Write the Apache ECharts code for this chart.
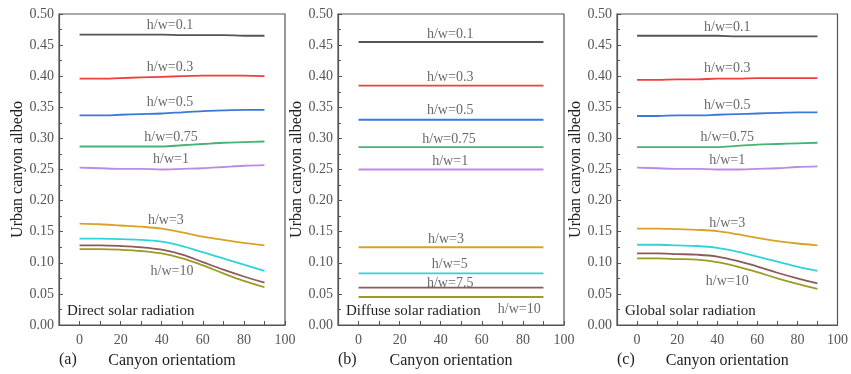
<!DOCTYPE html>
<html>
<head>
<meta charset="utf-8">
<script src="https://cdn.jsdelivr.net/npm/echarts@6/dist/echarts.min.js"></script>
<style>
  html, body { margin: 0; background: #fff; }
  #chart { width: 851px; height: 374px; }
</style>
</head>
<body>
<div id="chart"></div>
<script>
// canyon orientation (deg)
const orientation = [0, 10, 20, 30, 40, 50, 60, 70, 80, 90];
const ratios = ['0.1', '0.3', '0.5', '0.75', '1', '3', '5', '7.5', '10'];
const lineColors = ['#555555', '#ef3f3f', '#3a78dc', '#45b374', '#b98be6', '#d9a227', '#2fd3dc', '#8c5a5c', '#9c9c22'];

// (a) direct solar radiation, one row per h/w
const directAlbedo = [
  [0.467, 0.467, 0.467, 0.467, 0.467, 0.466, 0.466, 0.466, 0.465, 0.465],
  [0.396, 0.396, 0.397, 0.398, 0.399, 0.400, 0.401, 0.401, 0.401, 0.400],
  [0.337, 0.337, 0.338, 0.339, 0.340, 0.342, 0.344, 0.345, 0.346, 0.346],
  [0.287, 0.287, 0.287, 0.287, 0.287, 0.289, 0.291, 0.293, 0.294, 0.295],
  [0.253, 0.252, 0.251, 0.251, 0.250, 0.251, 0.252, 0.254, 0.256, 0.257],
  [0.163, 0.162, 0.160, 0.158, 0.155, 0.149, 0.142, 0.137, 0.132, 0.128],
  [0.139, 0.139, 0.138, 0.137, 0.134, 0.127, 0.117, 0.107, 0.097, 0.087],
  [0.128, 0.128, 0.127, 0.125, 0.121, 0.113, 0.101, 0.089, 0.078, 0.068],
  [0.122, 0.122, 0.121, 0.119, 0.115, 0.107, 0.096, 0.083, 0.071, 0.061]
];

// (b) diffuse solar radiation
const diffuseAlbedo = [
  [0.455, 0.455, 0.455, 0.455, 0.455, 0.455, 0.455, 0.455, 0.455, 0.455],
  [0.385, 0.385, 0.385, 0.385, 0.385, 0.385, 0.385, 0.385, 0.385, 0.385],
  [0.330, 0.330, 0.330, 0.330, 0.330, 0.330, 0.330, 0.330, 0.330, 0.330],
  [0.286, 0.286, 0.286, 0.286, 0.286, 0.286, 0.286, 0.286, 0.286, 0.286],
  [0.250, 0.250, 0.250, 0.250, 0.250, 0.250, 0.250, 0.250, 0.250, 0.250],
  [0.125, 0.125, 0.125, 0.125, 0.125, 0.125, 0.125, 0.125, 0.125, 0.125],
  [0.083, 0.083, 0.083, 0.083, 0.083, 0.083, 0.083, 0.083, 0.083, 0.083],
  [0.060, 0.060, 0.060, 0.060, 0.060, 0.060, 0.060, 0.060, 0.060, 0.060],
  [0.045, 0.045, 0.045, 0.045, 0.045, 0.045, 0.045, 0.045, 0.045, 0.045]
];

// (c) global solar radiation
const globalAlbedo = [
  [0.465, 0.465, 0.465, 0.465, 0.465, 0.464, 0.464, 0.464, 0.464, 0.464],
  [0.394, 0.394, 0.395, 0.395, 0.396, 0.396, 0.397, 0.397, 0.397, 0.397],
  [0.336, 0.336, 0.337, 0.337, 0.338, 0.339, 0.340, 0.341, 0.342, 0.342],
  [0.286, 0.286, 0.286, 0.286, 0.286, 0.288, 0.290, 0.291, 0.292, 0.293],
  [0.253, 0.252, 0.251, 0.251, 0.250, 0.250, 0.251, 0.252, 0.254, 0.255],
  [0.155, 0.155, 0.154, 0.153, 0.151, 0.146, 0.140, 0.135, 0.131, 0.128],
  [0.129, 0.129, 0.128, 0.127, 0.124, 0.118, 0.110, 0.102, 0.094, 0.087],
  [0.115, 0.115, 0.114, 0.113, 0.110, 0.103, 0.094, 0.084, 0.075, 0.067],
  [0.107, 0.107, 0.106, 0.105, 0.101, 0.094, 0.085, 0.075, 0.066, 0.058]
];

// curve labels: [orientation, albedo, text]
const directLabels = [
  [44, 0.481, 'h/w=0.1'], [44, 0.415, 'h/w=0.3'], [44, 0.358, 'h/w=0.5'],
  [44.5, 0.302, 'h/w=0.75'], [44.5, 0.267, 'h/w=1'], [42, 0.169, 'h/w=3'],
  [45, 0.087, 'h/w=10']
];
const diffuseLabels = [
  [44.6, 0.468, 'h/w=0.1'], [44.6, 0.398, 'h/w=0.3'], [44.6, 0.345, 'h/w=0.5'],
  [44, 0.299, 'h/w=0.75'], [44.6, 0.263, 'h/w=1'], [42.6, 0.138, 'h/w=3'],
  [44.4, 0.097, 'h/w=5'], [44.6, 0.067, 'h/w=7.5'], [78.2, 0.025, 'h/w=10']
];
const globalLabels = [
  [45, 0.478, 'h/w=0.1'], [45, 0.412, 'h/w=0.3'], [45, 0.353, 'h/w=0.5'],
  [45, 0.302, 'h/w=0.75'], [45, 0.265, 'h/w=1'], [45, 0.163, 'h/w=3'],
  [45, 0.070, 'h/w=10']
];

const xLabelValues = [0, 20, 40, 60, 80, 100];
const xTickValues = [0, 10, 20, 30, 40, 50, 60, 70, 80, 90, 100];

const panels = [
  { data: directAlbedo, labels: directLabels, tag: '(a)', note: 'Direct solar radiation', xName: 'Canyon orientatiom', left: 59 },
  { data: diffuseAlbedo, labels: diffuseLabels, tag: '(b)', note: 'Diffuse solar radiation', xName: 'Canyon orientation', left: 338 },
  { data: globalAlbedo, labels: globalLabels, tag: '(c)', note: 'Global solar radiation', xName: 'Canyon orientation', left: 617 }
];

const serif = '"Liberation Serif", "DejaVu Serif", serif';
const axisColor = '#555';
const chart = echarts.init(document.getElementById('chart'));

const grid = [], xAxis = [], yAxis = [], series = [], graphic = [];

panels.forEach((p, i) => {
  grid.push({
    left: p.left, top: 14, width: 226, height: 313,
    show: true, borderColor: axisColor, borderWidth: 1.2, backgroundColor: 'transparent'
  });
  xAxis.push({
    gridIndex: i, type: 'value', min: -10, max: 100,
    name: p.xName, nameLocation: 'middle', nameGap: 28,
    nameTextStyle: { fontFamily: serif, fontSize: 16, color: '#222' },
    axisLine: { onZero: false, lineStyle: { color: axisColor, width: 1.2 } },
    axisTick: { inside: true, length: 4, customValues: xTickValues, lineStyle: { color: axisColor } },
    axisLabel: { customValues: xLabelValues, margin: 8, fontFamily: serif, fontSize: 14, color: '#555' },
    splitLine: { show: false }
  });
  yAxis.push({
    gridIndex: i, type: 'value', min: 0, max: 0.5, interval: 0.05,
    name: 'Urban canyon albedo', nameLocation: 'middle', nameGap: 33, nameRotate: 90,
    nameTextStyle: { fontFamily: serif, fontSize: 16, color: '#222' },
    axisLine: { show: true, onZero: false, lineStyle: { color: axisColor, width: 1.2 } },
    axisTick: { show: true, inside: true, length: 4, lineStyle: { color: axisColor } },
    minorTick: { show: true, splitNumber: 2, length: 3, lineStyle: { color: axisColor } },
    axisLabel: { margin: 5, fontFamily: serif, fontSize: 14, color: '#555', formatter: v => v.toFixed(2) },
    splitLine: { show: false }
  });
  p.data.forEach((vals, j) => {
    series.push({
      type: 'line', name: p.tag + ' h/w=' + ratios[j],
      xAxisIndex: i, yAxisIndex: i, smooth: 0.35, showSymbol: false,
      lineStyle: { width: 1.8, color: lineColors[j] }, itemStyle: { color: lineColors[j] },
      data: orientation.map((x, k) => [x, vals[k]])
    });
  });
  series.push({
    type: 'scatter', xAxisIndex: i, yAxisIndex: i, symbolSize: 0, silent: true,
    label: {
      show: true, position: 'inside', formatter: d => d.data[2],
      fontFamily: serif, fontSize: 14, color: '#444'
    },
    data: p.labels
  });
  graphic.push({
    type: 'text', left: p.left + 8, top: 304,
    style: { text: p.note, font: '15px ' + serif, fill: '#222' }
  });
  graphic.push({
    type: 'text', left: p.left, top: 352,
    style: { text: p.tag, font: '16px ' + serif, fill: '#222' }
  });
});

chart.setOption({
  animation: false,
  backgroundColor: '#fff',
  grid, xAxis, yAxis, series, graphic
});
</script>
</body>
</html>
